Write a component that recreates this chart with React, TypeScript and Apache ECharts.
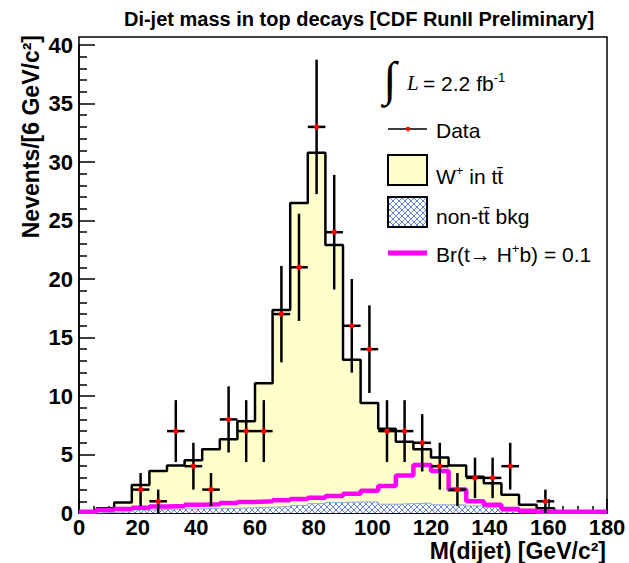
import React, { useEffect, useRef } from "react";
import * as echarts from "echarts";

// ---- data ----
const binCenters = [3, 9, 15, 21, 27, 33, 39, 45, 51, 57, 63, 69, 75, 81, 87, 93, 99, 105, 111, 117, 123, 129, 135, 141, 147, 153, 159, 165, 171, 177];
const dataCounts = [0, 0, 0, 2, 1, 7, 4, 2, 8, 7, 7, 17, 21, 33, 24, 16, 14, 7, 7, 6, 4, 2, 3, 3, 4, 0, 1, 0, 0, 0];
const wInTtTotal = [0.1, 0.4, 0.9, 2.4, 3.6, 4.05, 4.5, 5.45, 6.3, 7.85, 11.1, 17.35, 26.5, 30.8, 22.9, 13.1, 9.4, 7.2, 6.1, 5.45, 4.75, 4.05, 3.1, 2.55, 1.55, 0.7, 0.4, 0.05, 0, 0];
const nonTtBkg = [0, 0.05, 0.1, 0.25, 0.3, 0.35, 0.35, 0.4, 0.4, 0.45, 0.5, 0.55, 0.65, 0.8, 0.9, 0.95, 0.95, 0.75, 0.8, 0.85, 0.7, 0.7, 0.6, 0.5, 0.15, 0, 0, 0, 0, 0];
const chargedHiggs = [0.1, 0.25, 0.35, 0.45, 0.55, 0.6, 0.7, 0.75, 0.85, 0.95, 1.0, 1.1, 1.2, 1.3, 1.45, 1.65, 1.9, 2.3, 3.2, 4.1, 3.6, 2.0, 1.0, 0.7, 0.35, 0.2, 0.1, 0.1, 0.1, 0.1];
const binWidth = 6;

const SANS = "'Liberation Sans', Arial, Helvetica, sans-serif";
const SERIF = "'Liberation Serif', 'DejaVu Serif', serif";

function stepData(values: number[]) {
  const pts: number[][] = binCenters.map((c, i) => [c - binWidth / 2, values[i]]);
  const last = binCenters.length - 1;
  pts.push([binCenters[last] + binWidth / 2, values[last]]);
  return pts;
}

function makeHatch(): any {
  const c = document.createElement("canvas");
  c.width = 6;
  c.height = 6;
  const ctx = c.getContext("2d")!;
  ctx.fillStyle = "#ffffff";
  ctx.fillRect(0, 0, 6, 6);
  ctx.strokeStyle = "#6585cf";
  ctx.lineWidth = 1;
  ctx.beginPath();
  ctx.moveTo(0, 0);
  ctx.lineTo(6, 6);
  ctx.moveTo(6, 0);
  ctx.lineTo(0, 6);
  ctx.stroke();
  return { image: c, repeat: "repeat" };
}

export default function App() {
  const ref = useRef<HTMLDivElement>(null);
  useEffect(() => {
    document.body.style.margin = "0";
    if (!ref.current) return;
    const chart = echarts.init(ref.current, undefined, { renderer: "svg" });
    const hatch = makeHatch();
    const points = binCenters
      .map((c, i) => [c, dataCounts[i]])
      .filter((d) => d[1] > 0);

    const legendX = 436;
    const LF = 21;
    const supRich = {
      a: { fontFamily: SANS, fontSize: LF, lineHeight: 24, fill: "#000" },
      s: { fontFamily: SANS, fontSize: 13, lineHeight: 13, verticalAlign: "top", fill: "#000" },
    };
    const option: any = {
      animation: false,
      backgroundColor: "#ffffff",
      grid: { left: 79, right: 22, top: 45, bottom: 50 },
      xAxis: {
        type: "value",
        min: 0,
        max: 180,
        interval: 20,
        axisLine: { show: true, lineStyle: { color: "#000", width: 1.5 } },
        axisTick: { show: true, inside: true, length: 14, lineStyle: { color: "#000", width: 1.5 } },
        minorTick: { show: true, splitNumber: 4, length: 7, lineStyle: { color: "#000", width: 1.5 } },
        splitLine: { show: false },
        axisLabel: { color: "#000", fontFamily: SANS, fontWeight: "bold", fontSize: 22, margin: 3 },
      },
      yAxis: {
        type: "value",
        min: 0,
        max: 40,
        interval: 5,
        axisLine: { show: true, lineStyle: { color: "#000", width: 1.5 } },
        axisTick: { show: true, inside: true, length: 16, lineStyle: { color: "#000", width: 1.5 } },
        minorTick: { show: true, splitNumber: 5, length: 8, lineStyle: { color: "#000", width: 1.5 } },
        splitLine: { show: false },
        axisLabel: { color: "#000", fontFamily: SANS, fontWeight: "bold", fontSize: 22, margin: 6 },
      },
      series: [
        {
          name: "W+ in tt",
          type: "line",
          step: "end",
          data: stepData(wInTtTotal),
          symbol: "none",
          silent: true,
          lineStyle: { color: "#000", width: 2.5 },
          areaStyle: { color: "#ffffcc", opacity: 1 },
          z: 2,
        },
        {
          name: "non-tt bkg",
          type: "line",
          step: "end",
          data: stepData(nonTtBkg),
          symbol: "none",
          silent: true,
          lineStyle: { color: "#8fa9dc", width: 1 },
          areaStyle: { color: hatch, opacity: 1 },
          z: 3,
        },
        {
          name: "Br(t->H+b)=0.1",
          type: "line",
          step: "end",
          data: stepData(chargedHiggs),
          symbol: "none",
          silent: true,
          lineStyle: { color: "#ff00ff", width: 4.5 },
          z: 4,
        },
        {
          name: "Data",
          type: "custom",
          data: points,
          encode: { x: 0, y: 1 },
          z: 10,
          silent: true,
          renderItem: (params: any, api: any) => {
            const x = api.value(0);
            const y = api.value(1);
            const e = Math.sqrt(y);
            const p = api.coord([x, y]);
            const l = api.coord([x - binWidth / 2, y]);
            const r = api.coord([x + binWidth / 2, y]);
            const t = api.coord([x, y + e]);
            const b = api.coord([x, y - e]);
            const st = { stroke: "#000", lineWidth: 2.5 };
            return {
              type: "group",
              children: [
                { type: "line", shape: { x1: l[0], y1: l[1], x2: r[0], y2: r[1] }, style: st },
                { type: "line", shape: { x1: t[0], y1: t[1], x2: b[0], y2: b[1] }, style: st },
                { type: "circle", shape: { cx: p[0], cy: p[1], r: 2.7 }, style: { fill: "#ff0000" } },
              ],
            };
          },
        },
      ],
      graphic: [
        {
          type: "rect",
          z: 0,
          silent: true,
          shape: { x: 79, y: 37, width: 528, height: 476 },
          style: { fill: "none", stroke: "#000", lineWidth: 1.5 },
        },
        {
          type: "text",
          x: 359,
          y: 19,
          style: {
            text: "Di-jet mass in top decays [CDF RunII Preliminary]",
            fontFamily: SANS,
            fontWeight: "bold",
            fontSize: 20,
            fill: "#000",
            align: "center",
            verticalAlign: "middle",
          },
        },
        {
          type: "text",
          x: 31,
          y: 35,
          rotation: Math.PI / 2,
          style: {
            text: "Nevents/[6 GeV/c²]",
            fontFamily: SANS,
            fontWeight: "bold",
            fontSize: 23,
            fill: "#000",
            align: "right",
            verticalAlign: "middle",
          },
        },
        {
          type: "text",
          x: 606,
          y: 551,
          style: {
            text: "M(dijet) [GeV/c²]",
            fontFamily: SANS,
            fontWeight: "bold",
            fontSize: 23,
            fill: "#000",
            align: "right",
            verticalAlign: "middle",
          },
        },
        // legend: integral luminosity
        {
          type: "text",
          x: 390,
          y: 78,
          style: { text: "∫", fontFamily: SERIF, fontSize: 48, fill: "#000", align: "center", verticalAlign: "middle" },
        },
        {
          type: "text",
          x: 407,
          y: 83,
          style: { text: "L", fontFamily: SERIF, fontStyle: "italic", fontSize: LF, fill: "#000", align: "left", verticalAlign: "middle" },
        },
        {
          type: "text",
          x: 423,
          y: 83,
          style: {
            text: "{a|= 2.2 fb}{s|-1}",
            fill: "#000",
            align: "left",
            verticalAlign: "middle",
            rich: supRich,
          },
        },
        // legend: Data
        {
          type: "line",
          shape: { x1: 388, y1: 129, x2: 427, y2: 129 },
          style: { stroke: "#000", lineWidth: 1.5 },
        },
        {
          type: "circle",
          shape: { cx: 408, cy: 129, r: 2.2 },
          style: { fill: "#ff0000" },
        },
        {
          type: "text",
          x: legendX,
          y: 130,
          style: { text: "Data", fontFamily: SANS, fontSize: LF, fill: "#000", align: "left", verticalAlign: "middle" },
        },
        // legend: W+ in tt
        {
          type: "rect",
          shape: { x: 388, y: 155, width: 39, height: 30 },
          style: { fill: "#ffffcc", stroke: "#000", lineWidth: 2 },
        },
        {
          type: "text",
          x: legendX,
          y: 176,
          style: {
            text: "{a|W}{s|+}{a| in tt\u0304}",
            fill: "#000",
            align: "left",
            verticalAlign: "middle",
            rich: supRich,
          },
        },
        // legend: non-tt bkg
        {
          type: "rect",
          shape: { x: 388, y: 197, width: 39, height: 30 },
          style: { fill: hatch, stroke: "#000", lineWidth: 2 },
        },
        {
          type: "text",
          x: legendX,
          y: 216,
          style: { text: "non-tt\u0304 bkg", fontFamily: SANS, fontSize: LF, fill: "#000", align: "left", verticalAlign: "middle" },
        },
        // legend: charged Higgs
        {
          type: "line",
          shape: { x1: 388, y1: 253, x2: 427, y2: 253 },
          style: { stroke: "#ff00ff", lineWidth: 5 },
        },
        {
          type: "text",
          x: legendX,
          y: 254,
          style: {
            text: "{a|Br(t→ H}{s|+}{a|b) = 0.1}",
            fill: "#000",
            align: "left",
            verticalAlign: "middle",
            rich: supRich,
          },
        },
      ],
    };
    chart.setOption(option);
    return () => chart.dispose();
  }, []);
  return (
    <div
      ref={ref}
      style={{ width: 629, height: 563, position: "absolute", left: 0, top: 0 }}
    />
  );
}
